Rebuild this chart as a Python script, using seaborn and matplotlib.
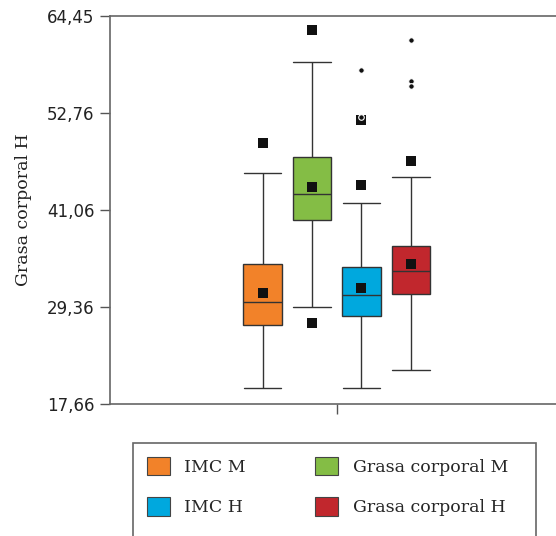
import numpy as np
import pandas as pd
import matplotlib
import matplotlib.pyplot as plt
from matplotlib.patches import Patch, Rectangle
import seaborn as sns

matplotlib.use("Agg")
sns.set_style("white")

# series, left to right
series = ["IMC M", "Grasa corporal M", "IMC H", "Grasa corporal H"]
colors = ["#F28229", "#84BD45", "#00A8DE", "#C1272D"]

# five-number summaries: lower whisker, Q1, median, Q3, upper whisker
low = [19.59, 29.32, 19.59, 21.76]
q1 = [27.19, 39.89, 28.27, 30.96]
median = [30.00, 42.99, 30.77, 33.66]
q3 = [34.51, 47.45, 34.14, 36.75]
high = [45.48, 58.94, 41.94, 45.00]

means = [31.01, 43.83, 31.61, 34.51]
# extra square markers (min / max beyond whiskers)
square_series = ["IMC M", "Grasa corporal M", "Grasa corporal M", "IMC H", "IMC H", "Grasa corporal H"]
square_values = [49.10, 62.72, 27.43, 51.91, 44.03, 46.93]
# outlier dots
dot_series = ["IMC H", "IMC H", "Grasa corporal H", "Grasa corporal H", "Grasa corporal H"]
dot_values = [57.98, 52.31, 61.56, 56.65, 55.97]

yticks = [17.66, 29.36, 41.06, 52.76, 64.45]

box_df = pd.DataFrame({
    "serie": np.repeat(series, 5),
    "valor": np.column_stack([low, q1, median, q3, high]).ravel(),
})
mean_df = pd.DataFrame({"serie": series, "valor": means})
sq_df = pd.DataFrame({"serie": square_series, "valor": square_values})
dot_df = pd.DataFrame({"serie": dot_series, "valor": dot_values})

fig = plt.figure(figsize=(5.56, 5.36), dpi=100)
ax = fig.add_axes([110 / 556, 1 - 404 / 536, 446 / 556, 388 / 536])

sns.boxplot(data=box_df, x="serie", y="valor", hue="serie", order=series, hue_order=series,
            palette=colors, whis=np.inf, width=0.78, showfliers=False, linecolor="#333333",
            linewidth=1, saturation=1, legend=False, ax=ax)

# caps as wide as the boxes
for line in ax.lines:
    xd = np.asarray(line.get_xdata(), dtype=float)
    yd = np.asarray(line.get_ydata(), dtype=float)
    if len(xd) == 2 and yd[0] == yd[1] and np.round(yd[0], 2) in (low + high):
        c = xd.mean()
        line.set_xdata([c - 0.38, c + 0.38])

sns.stripplot(data=mean_df, x="serie", y="valor", order=series, jitter=False, marker="s",
              color="#111111", size=7, linewidth=0, ax=ax, zorder=5)
sns.stripplot(data=sq_df, x="serie", y="valor", order=series, jitter=False, marker="s",
              color="#111111", size=7, linewidth=0, ax=ax, zorder=5)
sns.stripplot(data=dot_df, x="serie", y="valor", order=series, jitter=False, marker="o",
              color="#111111", size=4, linewidth=0.8, edgecolor="white", ax=ax, zorder=6)

ax.set_xlim(-3.09, -3.09 + 446 / 49.4)
ax.set_ylim(yticks[0], yticks[-1])
ax.set_xticks([1.5])
ax.set_xticklabels([""])
ax.set_yticks(yticks)
ax.set_yticklabels([f"{v:.2f}".replace(".", ",") for v in yticks], fontsize=12,
                   family="DejaVu Sans", color="#222222")
ax.set_xlabel("")
ax.set_ylabel("Grasa corporal H", fontsize=12.5, family="DejaVu Serif", color="#222222",
              labelpad=11)
ax.tick_params(axis="both", direction="out", length=7, width=1, color="#555555", pad=4,
               left=True, bottom=True)
for side in ["left", "bottom", "top"]:
    ax.spines[side].set_color("#666666")
    ax.spines[side].set_linewidth(1.2)
ax.spines["right"].set_visible(False)

# legend frame, runs off the bottom of the figure
fig.patches.append(Rectangle((133 / 556, -0.02), (536 - 133) / 556, 0.02 + (536 - 443) / 536,
                             transform=fig.transFigure, facecolor="none",
                             edgecolor="#666666", linewidth=1.2))
handles = [Patch(facecolor=c, edgecolor="#444444", linewidth=0.8) for c in colors]
order = [0, 2, 1, 3]
fig.legend([handles[i] for i in order], [series[i] for i in order], ncol=2,
           loc="upper left", bbox_to_anchor=(147 / 556, 1 - 457 / 536), frameon=False,
           prop={"family": "DejaVu Serif", "size": 12.5},
           handlelength=1.3, handleheight=1.25, handletextpad=0.85, columnspacing=4.0,
           labelspacing=1.22, borderpad=0, borderaxespad=0)

fig.savefig("out.png", dpi=100)
